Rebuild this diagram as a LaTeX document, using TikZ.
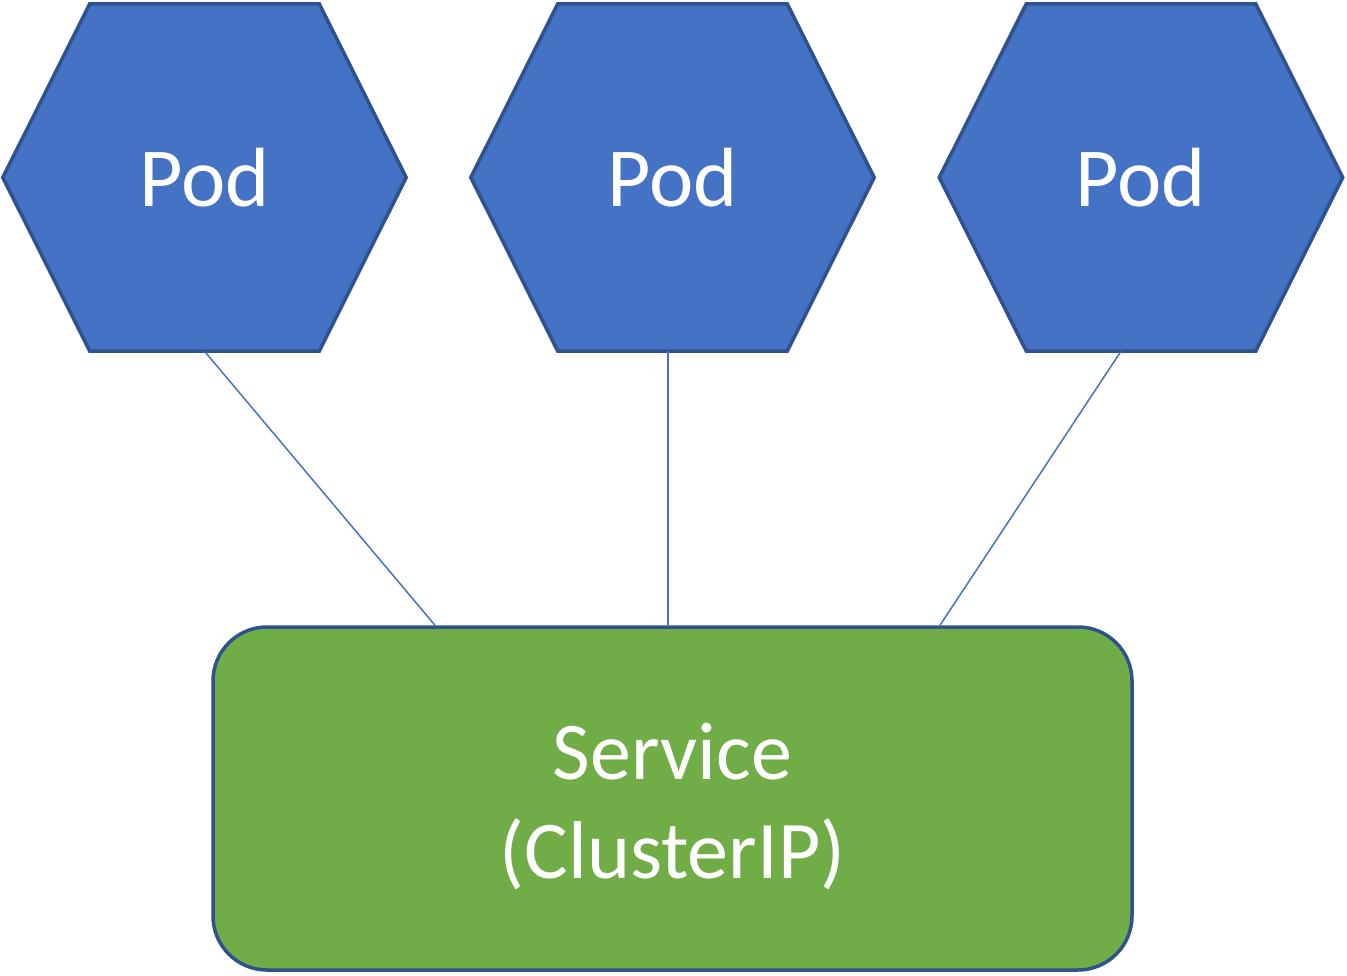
\documentclass[tikz,border=0pt]{standalone}
\usepackage{fontspec}
\setmainfont{Carlito}
\usetikzlibrary{positioning, backgrounds}
\definecolor{podblue}{HTML}{4472C4}
\definecolor{edgeblue}{HTML}{2F528F}
\definecolor{svcgreen}{HTML}{70AD47}
\tikzset{
x=1pt, y=-1pt,
pod/.style={minimum width=403pt, minimum height=347pt, inner sep=0pt, text=white, font=\fontsize{84}{100}\selectfont}, % invisible box of a pod
hexline/.style={draw=edgeblue, line width=3.5pt, fill=podblue, line join=miter},
service/.style={draw=edgeblue, line width=3.5pt, fill=svcgreen, rounded corners=54pt, minimum width=919pt, minimum height=343pt, inner sep=0pt, align=center, text=white, font=\fontsize{82}{99}\selectfont},
link/.style={draw=podblue, line width=1.5pt},
}
\begin{document}
\begin{tikzpicture}
    \useasboundingbox (0,0) rectangle (1347,976);
    \node[pod] (pod1) at (204.5,177.5) {Pod};
    \node[pod] (pod2) at (672.5,177.5) {Pod};
    \node[pod] (pod3) at (1141,177.5) {Pod};
    \begin{scope}[on background layer]
        \foreach \p in {pod1, pod2, pod3}
            \draw[hexline] (\p.west) -- ([xshift=87pt]\p.north west) -- ([xshift=-87pt]\p.north east)
                -- (\p.east) -- ([xshift=-87pt]\p.south east) -- ([xshift=87pt]\p.south west) -- cycle;
    \end{scope}
    \node[service] (svc) at (672.5,798.5) {\rule{0pt}{72pt}Service\\(ClusterIP)};
    \begin{scope}[on background layer]
        \draw[link] (pod1.south) -- ([xshift=-237.5pt]svc.north);
        \draw[link] ([xshift=-4.5pt]pod2.south) -- ([xshift=-4.5pt]svc.north);
        \draw[link] ([xshift=-20pt]pod3.south) -- ([xshift=267.5pt]svc.north);
    \end{scope}
\end{tikzpicture}
\end{document}
